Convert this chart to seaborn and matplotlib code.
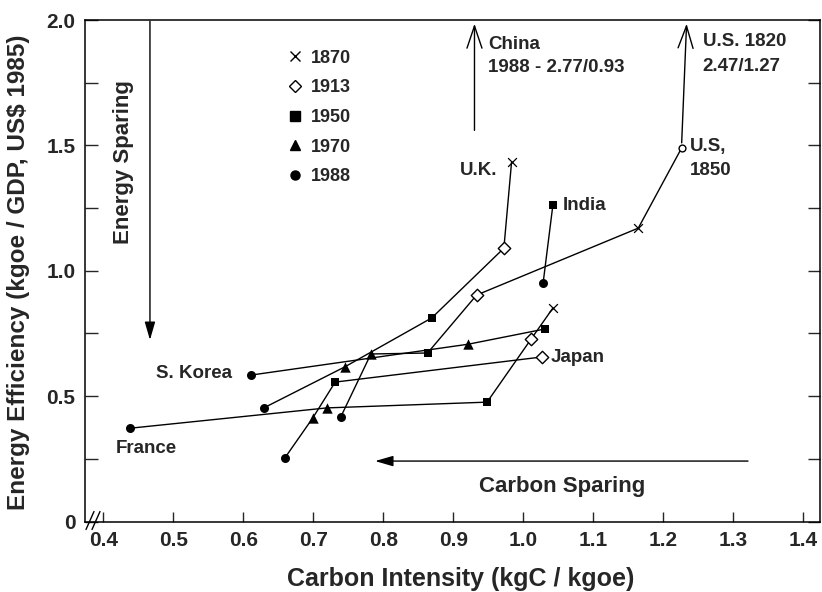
import numpy as np
import pandas as pd
import matplotlib
matplotlib.use("Agg")
import matplotlib.pyplot as plt
from matplotlib.lines import Line2D
from matplotlib.ticker import FixedLocator, FuncFormatter
import seaborn as sns

# ---------------- data ----------------
uk_years = [1870, 1913, 1950, 1970, 1988]
uk_ci = [0.983, 0.972, 0.869, 0.745, 0.629]
uk_ei = [1.434, 1.090, 0.812, 0.617, 0.453]

us_years = [1850, 1870, 1913, 1950, 1970, 1988]
us_ci = [1.226, 1.164, 0.933, 0.863, 0.782, 0.739]
us_ei = [1.490, 1.170, 0.903, 0.672, 0.668, 0.417]

france_years = [1870, 1913, 1950, 1970, 1988]
france_ci = [1.042, 1.011, 0.948, 0.719, 0.438]
france_ei = [0.851, 0.728, 0.476, 0.453, 0.372]

japan_years = [1913, 1950, 1970, 1988]
japan_ci = [1.026, 0.731, 0.699, 0.659]
japan_ei = [0.656, 0.556, 0.413, 0.253]

india_years = [1950, 1988]
india_ci = [1.042, 1.028]
india_ei = [1.262, 0.950]

korea_years = [1950, 1970, 1988]
korea_ci = [1.031, 0.921, 0.611]
korea_ei = [0.768, 0.707, 0.584]

# off-chart values (annotated with arrows)
china_1988_label = "1988 - 2.77/0.93"
china_ci_1988 = 0.93
us_1820_label = "2.47/1.27"

legend_years = [1870, 1913, 1950, 1970, 1988]
x_ticks = [0.4, 0.5, 0.6, 0.7, 0.8, 0.9, 1.0, 1.1, 1.2, 1.3, 1.4]
y_ticks = [0, 0.5, 1.0, 1.5, 2.0]

# ---------------- table ----------------
rows = []
for name, yrs, cis, eis in [("U.K.", uk_years, uk_ci, uk_ei),
                             ("U.S.", us_years, us_ci, us_ei),
                             ("France", france_years, france_ci, france_ei),
                             ("Japan", japan_years, japan_ci, japan_ei),
                             ("India", india_years, india_ci, india_ei),
                             ("S. Korea", korea_years, korea_ci, korea_ei)]:
    for i, (yr, c, e) in enumerate(zip(yrs, cis, eis)):
        rows.append(dict(country=name, year=yr, ci=c, ei=e, order=i))
df = pd.DataFrame(rows)

# ---------------- style ----------------
sns.set_style("ticks")
plt.rcParams["font.family"] = ["Liberation Sans", "DejaVu Sans"]
plt.rcParams["font.weight"] = "bold"
plt.rcParams["axes.labelweight"] = "bold"

fig = plt.figure(figsize=(8.22, 5.92), dpi=100)
ax = fig.add_axes([85 / 822, (592 - 521.5) / 592, 735 / 822, 501.5 / 592])

sns.lineplot(data=df, x="ci", y="ei", units="country", estimator=None,
             sort=False, color="black", lw=1.0, ax=ax, legend=False)

marker_style = {
    1850: dict(marker="o", s=24, facecolor="white", edgecolor="black", linewidth=1.0),
    1870: dict(marker="x", s=40, color="black", linewidth=0.9),
    1913: dict(marker="D", s=40, facecolor="white", edgecolor="black", linewidth=1.0),
    1950: dict(marker="s", s=40, color="black", linewidth=0),
    1970: dict(marker="^", s=56, color="black", linewidth=0),
    1988: dict(marker="o", s=42, color="black", linewidth=0),
}
for yr, st in marker_style.items():
    sub = df[df["year"] == yr]
    sns.scatterplot(data=sub, x="ci", y="ei", ax=ax, legend=False, zorder=5, **st)

ax.set_xlim(0.3736, 1.4236)
ax.set_ylim(0, 2.0)

ax.xaxis.set_major_locator(FixedLocator(x_ticks))
ax.xaxis.set_major_formatter(FuncFormatter(lambda v, p: f"{v:.1f}"))
ax.yaxis.set_major_locator(FixedLocator(y_ticks))
ax.yaxis.set_minor_locator(FixedLocator([0.25, 0.75, 1.25, 1.75]))
ax.yaxis.set_major_formatter(FuncFormatter(lambda v, p: "0" if v == 0 else f"{v:.1f}"))

ax.tick_params(axis="x", direction="in", length=7, width=1, pad=7, labelsize=15)
ax.tick_params(axis="y", which="both", direction="in", length=9, width=1, pad=7,
               labelsize=15, right=True)
for sp in ax.spines.values():
    sp.set_linewidth(1.1)
    sp.set_color("black")

ax.set_xlabel("Carbon Intensity (kgC / kgoe)", fontsize=18, fontweight="bold")
ax.set_ylabel("Energy Efficiency (kgoe / GDP, US$ 1985)", fontsize=17.5, fontweight="bold")
ax.xaxis.set_label_coords(0.5116, -0.091)
ax.yaxis.set_label_coords(-0.075, 0.497)

# axis break marks
for xo in (86, 92):
    ax.plot([(xo - 85) / 735, (xo + 8 - 85) / 735], [-8 / 501.5, 10 / 501.5],
            transform=ax.transAxes, color="black", lw=1.0, clip_on=False)

# legend
handles = [
    Line2D([], [], ls="", marker="x", color="black", markersize=7, mew=1.0),
    Line2D([], [], ls="", marker="D", mfc="white", mec="black", markersize=6.5, mew=1.0),
    Line2D([], [], ls="", marker="s", color="black", markersize=6.5),
    Line2D([], [], ls="", marker="^", color="black", markersize=7.5),
    Line2D([], [], ls="", marker="o", color="black", markersize=6.5),
]
ax.legend(handles, [str(y) for y in legend_years], loc="upper left",
          bbox_to_anchor=(0.276, 0.941), frameon=False,
          handlelength=0.8, handletextpad=0.45, labelspacing=0.7,
          borderpad=0, borderaxespad=0, prop=dict(weight="bold", size=13))

# country labels
lab = dict(fontsize=13.5, fontweight="bold", va="center")
ax.text(0.962, 1.40, "U.K.", ha="right", **lab)
ax.text(1.056, 1.262, "India", ha="left", **lab)
ax.text(1.238, 1.495, "U.S,", ha="left", **lab)
ax.text(1.238, 1.40, "1850", ha="left", **lab)
ax.text(1.256, 1.913, "U.S. 1820", ha="left", **lab)
ax.text(1.256, 1.814, us_1820_label, ha="left", **lab)
ax.text(0.949, 1.904, "China", ha="left", **lab)
ax.text(0.949, 1.809, china_1988_label, ha="left", **lab)
ax.text(1.039, 0.656, "Japan", ha="left", **lab)
ax.text(0.5836, 0.591, "S. Korea", ha="right", **lab)
ax.text(0.418, 0.292, "France", ha="left", **lab)

# arrows
open_head = dict(arrowstyle="->,head_length=0.8,head_width=0.27", lw=1.0,
                 color="black", shrinkA=0, shrinkB=0, mutation_scale=20)
ax.annotate("", xy=(china_ci_1988, 1.985), xytext=(china_ci_1988, 1.56),
            arrowprops=open_head)
ax.annotate("", xy=(1.233, 1.985), xytext=(us_ci[0], us_ei[0] + 0.02),
            arrowprops=open_head)

filled = dict(arrowstyle="-|>,head_length=0.55,head_width=0.16", lw=1.0,
              color="black", shrinkA=0, shrinkB=0, mutation_scale=20)
ax.annotate("", xy=(0.4664, 0.724), xytext=(0.4664, 1.995), arrowprops=filled)
ax.annotate("", xy=(0.788, 0.241), xytext=(1.3207, 0.241), arrowprops=filled)

ax.text(0.428, 1.435, "Energy Sparing", rotation=90, ha="center", va="center",
        fontsize=16, fontweight="bold")
ax.text(1.055, 0.140, "Carbon Sparing", ha="center", va="center",
        fontsize=16, fontweight="bold")

fig.savefig("out.png", dpi=100)
